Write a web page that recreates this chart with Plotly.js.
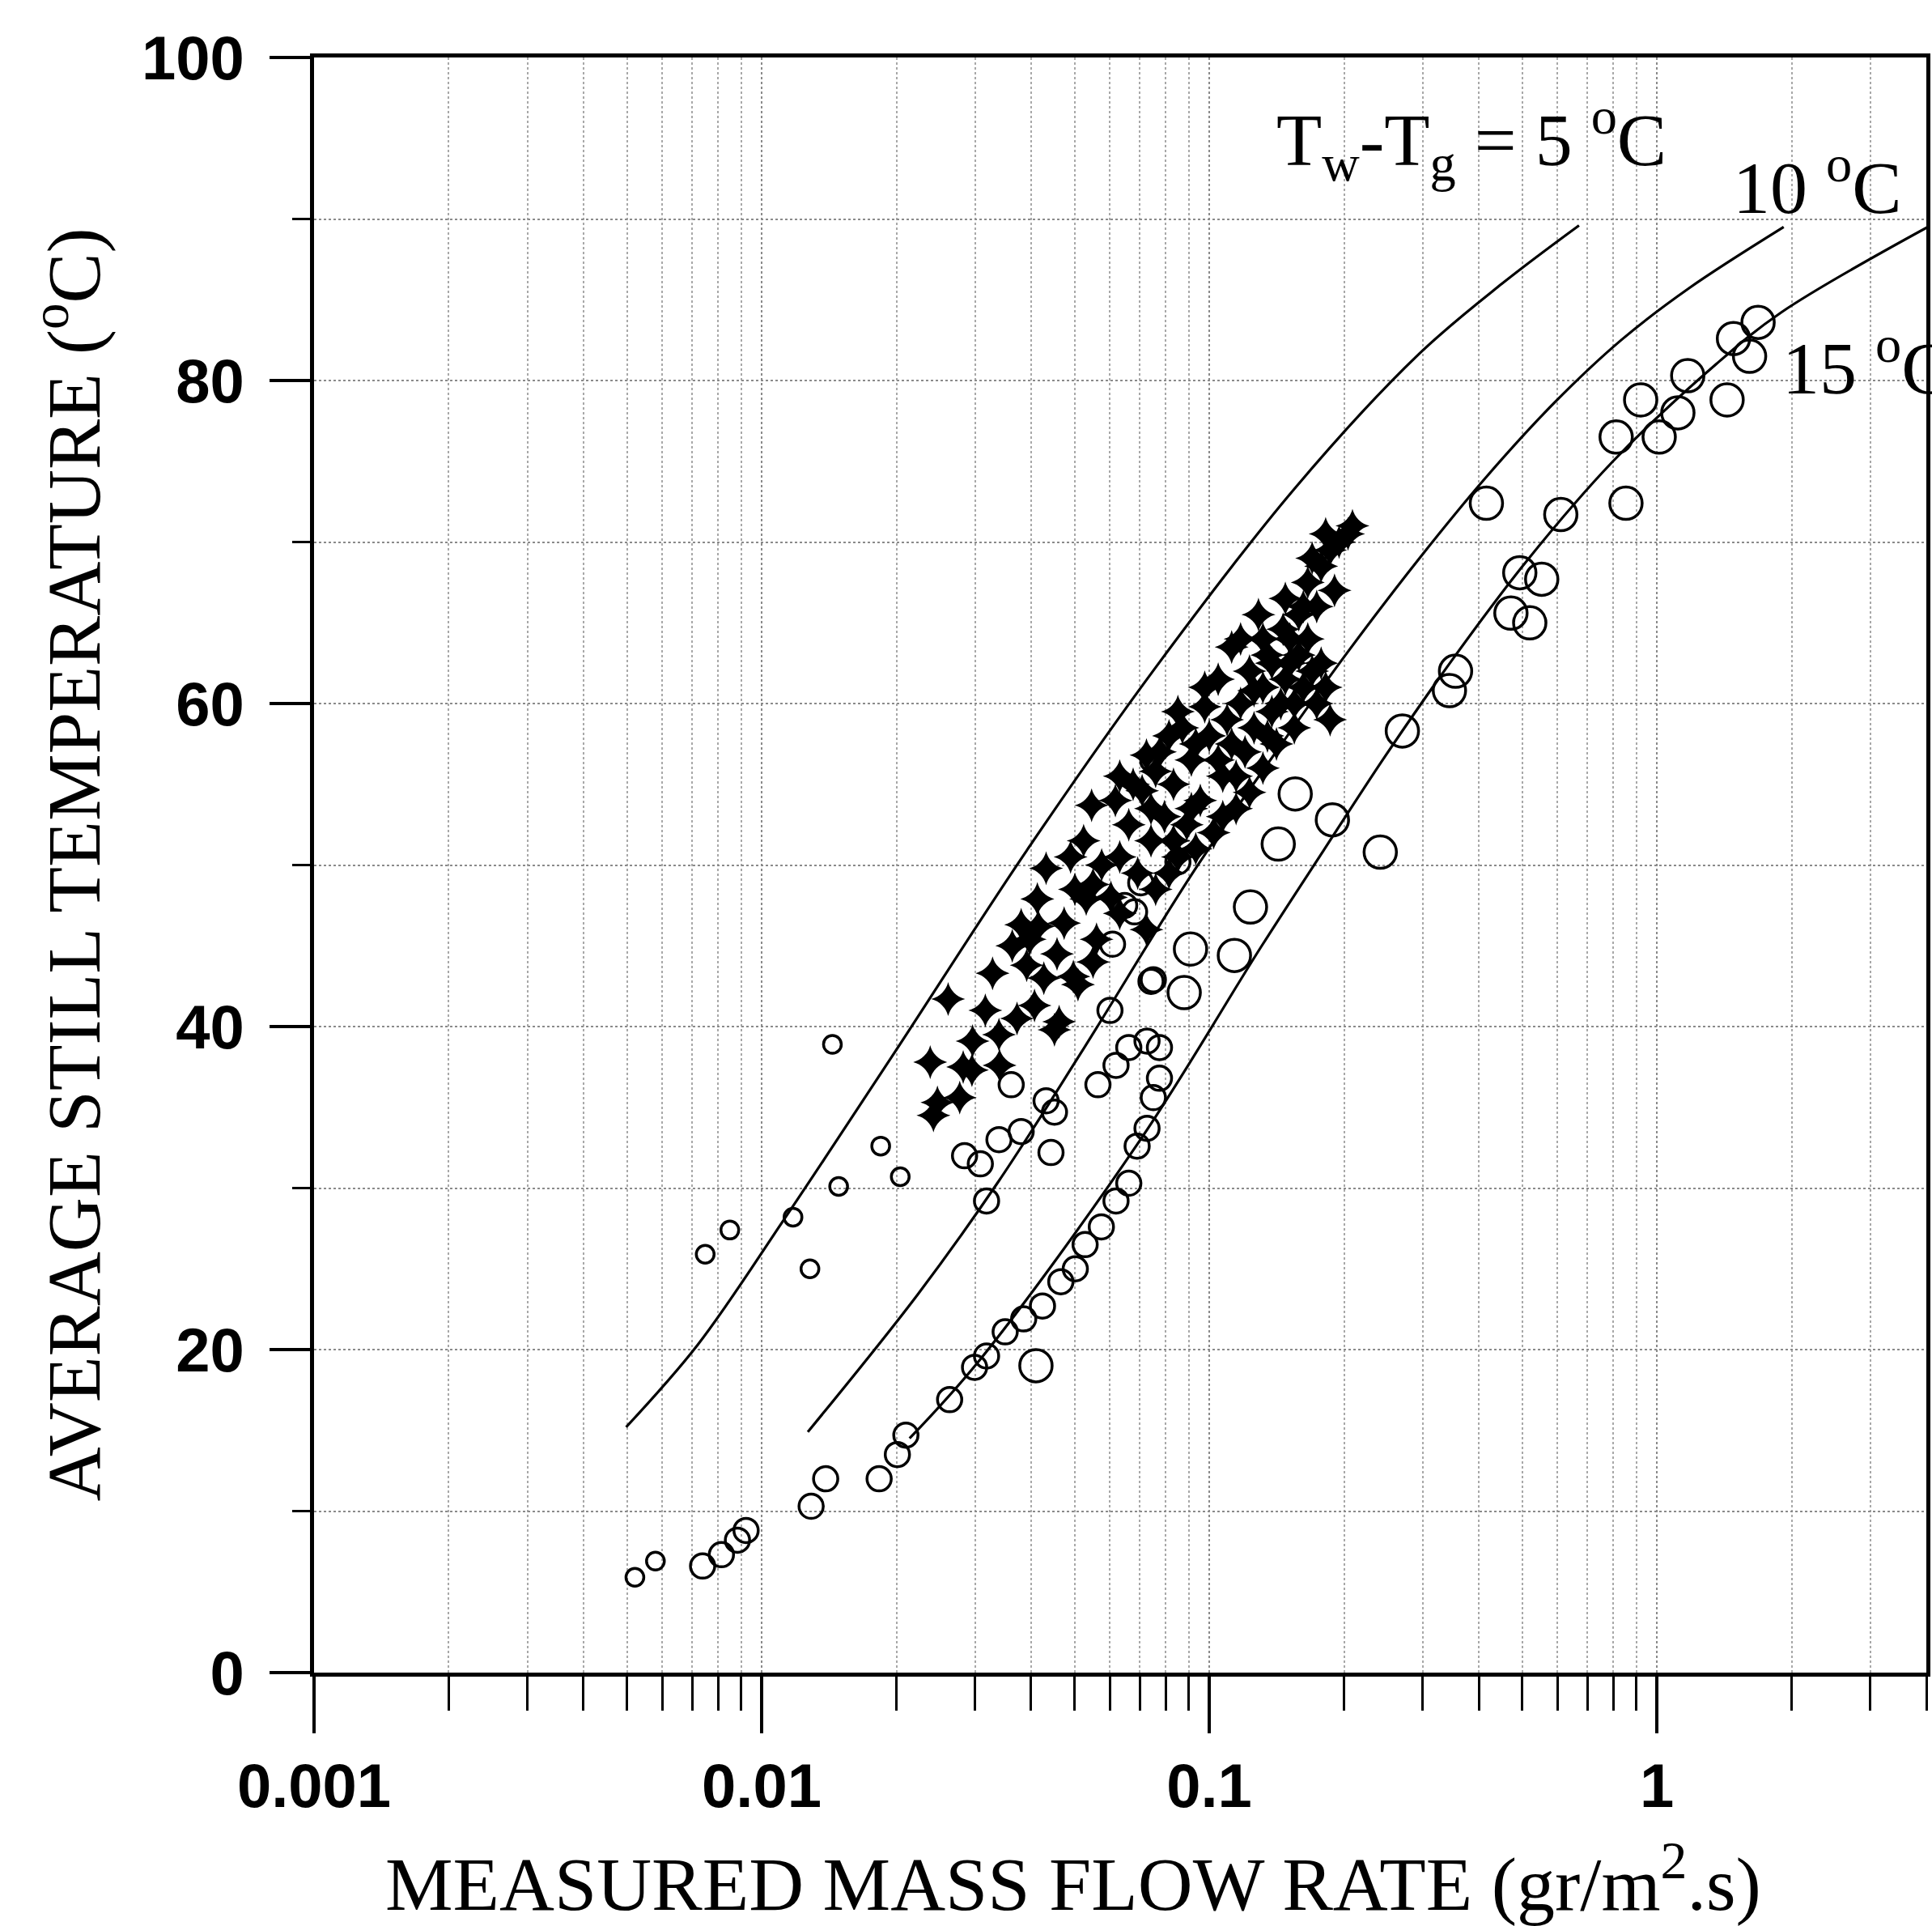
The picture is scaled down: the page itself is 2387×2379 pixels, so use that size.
<!DOCTYPE html>
<html>
<head>
<meta charset="utf-8">
<script src="https://cdn.plot.ly/plotly-3.0.1.min.js"></script>
<style>
  html, body { margin: 0; padding: 0; background: #ffffff; }
  #chart { width: 2387px; height: 2379px; }
</style>
</head>
<body>
<div id="chart"></div>
<script>
// ---------------- data ----------------
// model curves  (mass flow rate in gr/m2.s, average still temperature in deg C)
const curve5X  = [0.00498, 0.0072, 0.01125, 0.0195, 0.0391, 0.0762, 0.155, 0.293, 0.451, 0.670];
const curve5Y  = [15.2, 20.3, 28.1, 38.1, 50.9, 62.3, 73.3, 81.6, 86.0, 89.6];

const curve10X = [0.01268, 0.0223, 0.0338, 0.0515, 0.0933, 0.146, 0.204, 0.293, 0.415, 0.589, 0.832, 1.178, 1.92];
const curve10Y = [14.9, 23.4, 30.4, 38.3, 49.8, 57.6, 63.2, 68.9, 74.0, 78.6, 82.5, 85.7, 89.5];

const curve15X = [0.0214, 0.0308, 0.0702, 0.131, 0.180, 0.248, 0.351, 0.511, 0.798, 1.355, 1.892, 4.09];
const curve15Y = [14.5, 19.4, 33.0, 45.0, 50.9, 56.8, 62.8, 68.8, 75.0, 81.0, 84.2, 89.6];

// measured points drawn as small open circles
const smallCircX = [0.00521, 0.00579, 0.00748, 0.00849, 0.01175, 0.01282, 0.01439, 0.01486, 0.01845, 0.0204, 0.0736];
const smallCircY = [5.9, 6.9, 25.9, 27.4, 28.2, 25.0, 38.9, 30.1, 32.6, 30.7, 56.4];

// measured points drawn as medium open circles
const midCircX = [0.00738, 0.00813, 0.00883, 0.00923, 0.0129, 0.0139, 0.0183, 0.0201, 0.0210, 0.0263,
                  0.0299, 0.0318, 0.0350, 0.0385, 0.0424, 0.0466, 0.0502, 0.0528, 0.0574, 0.0619,
                  0.0661, 0.0690, 0.0726, 0.0750, 0.0774,
                  0.0284, 0.0308, 0.0318, 0.0339, 0.0380, 0.0443, 0.0451, 0.0432, 0.0361, 0.0564,
                  0.0619, 0.0661, 0.0726, 0.0774, 0.0600, 0.0750, 0.0647, 0.0703, 0.0851, 0.0681,
                  0.0608, 0.0741];
const midCircY = [6.6, 7.3, 8.2, 8.8, 10.3, 12.0, 12.0, 13.5, 14.7, 16.9,
                  18.9, 19.6, 21.1, 21.9, 22.7, 24.2, 25.0, 26.5, 27.6, 29.2,
                  30.3, 32.6, 33.7, 35.6, 36.8,
                  32.0, 31.5, 29.2, 33.0, 33.5, 32.2, 34.7, 35.4, 36.4, 36.4,
                  37.6, 38.7, 39.1, 38.7, 41.0, 42.9, 47.5, 48.9, 50.2, 47.1,
                  45.1, 42.8];

// measured points drawn as large open circles
const bigCircX = [0.0410, 0.0879, 0.0908, 0.1138, 0.1236, 0.1426, 0.1556, 0.1884, 0.241, 0.270,
                  0.344, 0.355, 0.416, 0.472, 0.520, 0.494, 0.553, 0.610, 0.853, 0.811,
                  0.920, 1.012, 1.114, 1.172, 1.435, 1.483, 1.611, 1.683];
const bigCircY = [19.0, 42.1, 44.8, 44.4, 47.4, 51.3, 54.4, 52.8, 50.8, 58.3,
                  60.8, 62.0, 72.4, 65.6, 65.0, 68.1, 67.7, 71.7, 72.4, 76.5,
                  78.8, 76.5, 78.0, 80.3, 78.8, 82.6, 81.5, 83.6];

// measured points drawn as filled stars
const starX = [0.0242, 0.0247, 0.0277, 0.0295, 0.0238, 0.0340, 0.0296, 0.0339, 0.0261, 0.0328,
               0.0391, 0.0407, 0.0451, 0.0462, 0.0497, 0.0509, 0.0415, 0.0474, 0.0560, 0.0413,
               0.0531, 0.0432, 0.0524, 0.0546, 0.0380, 0.0397,
               0.0603, 0.0631, 0.0661, 0.0617, 0.0708, 0.0692, 0.0741, 0.0759, 0.0794, 0.0832,
               0.0851, 0.0891, 0.0912, 0.0955, 0.100, 0.1023, 0.1072, 0.1122, 0.1148, 0.0776,
               0.0871, 0.0724,
               0.1175, 0.123, 0.1259, 0.1318, 0.1349, 0.1413, 0.1445, 0.1514, 0.1549, 0.1622,
               0.166, 0.1738, 0.1778, 0.1047, 0.1122, 0.1462, 0.1288, 0.1862,
               0.1479, 0.1585, 0.166, 0.1778, 0.1862, 0.195, 0.2042, 0.2089, 0.1738, 0.1905,
               0.0631, 0.0759, 0.0813, 0.0851, 0.0933, 0.0977, 0.1047, 0.1096, 0.1148, 0.1202,
               0.1259, 0.1318, 0.1380, 0.1479, 0.1549, 0.1585, 0.1698, 0.1820, 0.1380, 0.1175,
               0.1318, 0.0977, 0.0912, 0.0832, 0.0741, 0.0676, 0.0575, 0.0631, 0.0813, 0.0933,
               0.1072, 0.1230, 0.1349, 0.1514, 0.1622, 0.1698, 0.1820, 0.0724, 0.0550, 0.0490,
               0.0501, 0.0457, 0.0363, 0.0316, 0.0282, 0.0372, 0.0427, 0.0550];
const starY = [34.5, 35.3, 35.6, 37.3, 37.8, 37.6, 39.1, 39.5, 41.7, 43.3,
               43.8, 41.3, 39.8, 40.3, 43.1, 42.6, 46.2, 46.4, 45.4, 47.9,
               47.9, 49.8, 51.5, 53.7, 46.3, 45.4,
               48.0, 50.5, 52.5, 54.0, 54.6, 49.5, 51.5, 48.5, 53.0, 55.0,
               50.5, 52.5, 56.5, 54.0, 58.0, 52.0, 55.5, 57.5, 53.5, 57.0,
               58.5, 56.8,
               60.0, 62.0, 58.5, 61.0, 63.0, 57.5, 60.0, 62.5, 58.5, 61.0,
               64.0, 60.0, 62.5, 61.5, 63.5, 64.6, 65.5, 59.0,
               66.5, 65.5, 67.5, 68.5, 69.5, 70.0, 70.5, 71.0, 66.0, 67.0,
               55.5, 55.8, 58.0, 59.5, 57.5, 59.8, 56.5, 59.0, 55.5, 57.0,
               60.8, 56.0, 59.5, 61.5, 60.0, 63.0, 62.0, 61.0, 62.5, 64.0,
               64.0, 61.0, 53.5, 51.5, 53.5, 55.0, 50.0, 47.0, 49.5, 51.0,
               53.0, 54.5, 58.0, 64.0, 66.0, 69.0, 70.5, 46.0, 48.8, 50.5,
               48.5, 44.5, 45.0, 41.0, 37.5, 40.5, 43.0, 44.0];

// axis ticks and labels
const xMajorVals = [0.001, 0.01, 0.1, 1];
const xMajorText = ['0.001', '0.01', '0.1', '1'];
const xMinorVals = [0.002, 0.003, 0.004, 0.005, 0.006, 0.007, 0.008, 0.009,
                    0.02, 0.03, 0.04, 0.05, 0.06, 0.07, 0.08, 0.09,
                    0.2, 0.3, 0.4, 0.5, 0.6, 0.7, 0.8, 0.9,
                    2, 3, 4];
const yMajorVals = [0, 20, 40, 60, 80, 100];
const yMinorVals = [10, 30, 50, 70, 90];

const xTitle = 'MEASURED MASS FLOW RATE (gr/m<sup>2</sup>.s)';
const yTitle = 'AVERAGE STILL TEMPERATURE (<sup>o</sup>C)';
const label5  = 'T<sub>w</sub>-T<sub>g</sub> = 5 <sup>o</sup>C';
const label10 = '10 <sup>o</sup>C';
const label15 = '15 <sup>o</sup>C';

// ---------------- figure ----------------
const curveLine = {color: '#000', width: 3.2, shape: 'spline', smoothing: 1};
const serif = 'Liberation Serif, Times New Roman, serif';
const sans = 'Liberation Sans, Arial, sans-serif';

const traces = [
  {x: curve5X,  y: curve5Y,  mode: 'lines', line: curveLine, name: '5 °C'},
  {x: curve10X, y: curve10Y, mode: 'lines', line: curveLine, name: '10 °C'},
  {x: curve15X, y: curve15Y, mode: 'lines', line: curveLine, name: '15 °C'},
  {x: smallCircX, y: smallCircY, mode: 'markers', name: 'small circles',
   marker: {symbol: 'circle-open', size: 22, color: '#000', line: {width: 3.5}}},
  {x: midCircX, y: midCircY, mode: 'markers', name: 'circles',
   marker: {symbol: 'circle-open', size: 30, color: '#000', line: {width: 3.5}}},
  {x: bigCircX, y: bigCircY, mode: 'markers', name: 'large circles',
   marker: {symbol: 'circle-open', size: 40, color: '#000', line: {width: 3.5}}},
  {x: starX, y: starY, mode: 'markers', name: 'stars',
   marker: {symbol: 'star-diamond', size: 30, color: '#000', line: {width: 0}}}
];

const layout = {
  width: 2387, height: 2379,
  margin: {l: 388, r: 7, t: 71, b: 313},
  paper_bgcolor: '#fff', plot_bgcolor: '#fff',
  showlegend: false,
  xaxis: {
    type: 'log', range: [-3, 0.602], autorange: false,
    showline: true, linewidth: 5, linecolor: '#000', mirror: true,
    tickmode: 'array', tickvals: xMajorVals, ticktext: xMajorText,
    ticks: 'outside', ticklen: 70, tickwidth: 4, tickcolor: '#000',
    ticklabelstandoff: 0,
    tickfont: {family: sans, size: 76, weight: 'bold', color: '#000'},
    showgrid: true, gridcolor: '#8a8a8a', gridwidth: 2, griddash: 'dot',
    minor: {tickmode: 'array', tickvals: xMinorVals, ticks: 'outside', ticklen: 42, tickwidth: 3,
            tickcolor: '#000', showgrid: true, gridcolor: '#a8a8a8', gridwidth: 2, griddash: 'dot'},
    zeroline: false
  },
  yaxis: {
    range: [0, 100], autorange: false,
    showline: true, linewidth: 5, linecolor: '#000', mirror: true,
    tickmode: 'array', tickvals: yMajorVals,
    ticks: 'outside', ticklen: 50, tickwidth: 4, tickcolor: '#000',
    ticklabelstandoff: 16,
    tickfont: {family: sans, size: 76, weight: 'bold', color: '#000'},
    showgrid: true, gridcolor: '#8a8a8a', gridwidth: 2, griddash: 'dot',
    minor: {tickmode: 'array', tickvals: yMinorVals, ticks: 'outside', ticklen: 22, tickwidth: 3,
            tickcolor: '#000', showgrid: true, gridcolor: '#8a8a8a', gridwidth: 2, griddash: 'dot'},
    zeroline: false
  },
  annotations: [
    {text: xTitle, xref: 'paper', yref: 'paper', x: 0.471, y: -0.1275,
     xanchor: 'center', yanchor: 'middle', showarrow: false,
     font: {family: serif, size: 94, color: '#000'}},
    {text: yTitle, xref: 'paper', yref: 'paper', x: -0.1526, y: 0.5, textangle: -90,
     xanchor: 'center', yanchor: 'middle', showarrow: false,
     font: {family: serif, size: 93, color: '#000'}},
    {text: label5, xref: 'paper', yref: 'paper', x: 0.596, y: 0.949,
     xanchor: 'left', yanchor: 'middle', showarrow: false,
     font: {family: serif, size: 92, color: '#000'}},
    {text: label10, xref: 'paper', yref: 'paper', x: 0.879, y: 0.923,
     xanchor: 'left', yanchor: 'middle', showarrow: false,
     font: {family: serif, size: 92, color: '#000'}},
    {text: label15, xref: 'paper', yref: 'paper', x: 0.9096, y: 0.811,
     xanchor: 'left', yanchor: 'middle', showarrow: false,
     font: {family: serif, size: 92, color: '#000'}}
  ]
};

Plotly.newPlot('chart', traces, layout, {staticPlot: true, displayModeBar: false});
</script>
</body>
</html>
